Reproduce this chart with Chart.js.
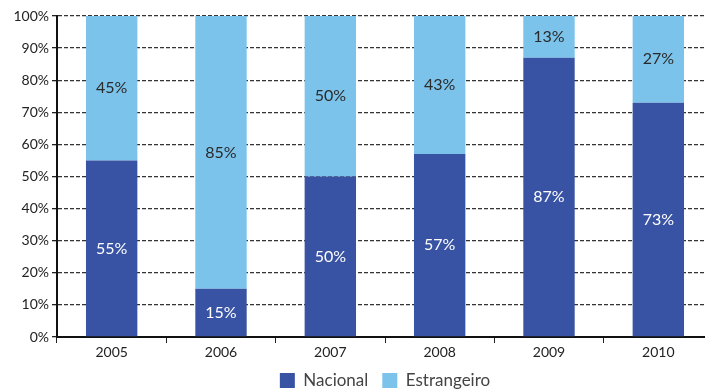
<!DOCTYPE html>
<html>
<head>
<meta charset="utf-8">
<script src="https://cdn.jsdelivr.net/npm/chart.js@4/dist/chart.umd.min.js"></script>
<style>
  html, body { margin: 0; padding: 0; background: #fff; overflow: hidden; }
  #wrap { width: 720px; height: 392px; }
</style>
</head>
<body>
<div id="wrap"><canvas id="chart"></canvas></div>
<script>
const years = ["2005", "2006", "2007", "2008", "2009", "2010"];
const nacional = [55, 15, 50, 57, 87, 73];
const estrangeiro = [45, 85, 50, 43, 13, 27];
const yTicks = [0, 10, 20, 30, 40, 50, 60, 70, 80, 90, 100];

const FONT = "Lato, 'Open Sans', sans-serif";
const LEGEND_PAD = 14;

// writes the percentage in the middle of each bar segment
const segmentLabels = {
    id: "segmentLabels",
    afterDatasetsDraw(chart) {
        const ctx = chart.ctx;
        ctx.save();
        ctx.font = "16px " + FONT;
        ctx.textAlign = "center";
        ctx.textBaseline = "middle";
        chart.data.datasets.forEach((ds, i) => {
            const meta = chart.getDatasetMeta(i);
            meta.data.forEach((bar, j) => {
                ctx.fillStyle = ds.labelColor;
                ctx.fillText(ds.data[j] + "%", bar.x, (bar.y + bar.base) / 2);
            });
        });
        ctx.restore();
    },
};

new Chart(document.getElementById("chart"), {
    type: "bar",
    data: {
        labels: years,
        datasets: [
            {
                label: "Nacional",
                data: nacional,
                backgroundColor: "#3953a4",
                labelColor: "#ffffff",
                barPercentage: 0.94,
                categoryPercentage: 0.5,
            },
            {
                label: "Estrangeiro",
                data: estrangeiro,
                backgroundColor: "#7bc3eb",
                labelColor: "#2a2a2a",
                barPercentage: 0.94,
                categoryPercentage: 0.5,
            },
        ],
    },
    options: {
        animation: false,
        maintainAspectRatio: false,
        responsive: true,
        layout: { padding: { top: 16, right: 7, left: 0, bottom: 0 } },
        plugins: {
            legend: {
                position: "bottom",
                fullSize: false,
                maxHeight: LEGEND_PAD + 20,
                labels: {
                    boxWidth: 15,
                    boxHeight: 15,
                    padding: LEGEND_PAD,
                    color: "#444",
                    font: { family: FONT, size: 17 },
                },
            },
            tooltip: { enabled: false },
        },
        scales: {
            x: {
                stacked: true,
                afterFit(scale) {
                    scale.height = 21;
                },
                grid: {
                    offset: true,
                    drawOnChartArea: false,
                    drawTicks: true,
                    tickLength: 6,
                    color: "#222",
                },
                border: { color: "#111", width: 2 },
                ticks: {
                    color: "#222",
                    padding: 2,
                    font: { family: FONT, size: 14, lineHeight: 1 },
                },
            },
            y: {
                stacked: true,
                min: 0,
                max: 100,
                afterBuildTicks(scale) {
                    scale.ticks = yTicks.map((v) => ({ value: v }));
                },
                afterFit(scale) {
                    scale.width = 57;
                },
                grid: {
                    color: "#333",
                    lineWidth: 1.3,
                    borderDash: [4, 2],
                    tickLength: 5,
                    tickColor: "#222",
                    tickBorderDash: [],
                },
                border: { color: "#111", width: 2, dash: [4, 2] },
                ticks: {
                    color: "#222",
                    padding: 3,
                    font: { family: FONT, size: 14 },
                    callback: (v) => v + "%",
                },
            },
        },
    },
    plugins: [segmentLabels],
});
</script>
</body>
</html>
